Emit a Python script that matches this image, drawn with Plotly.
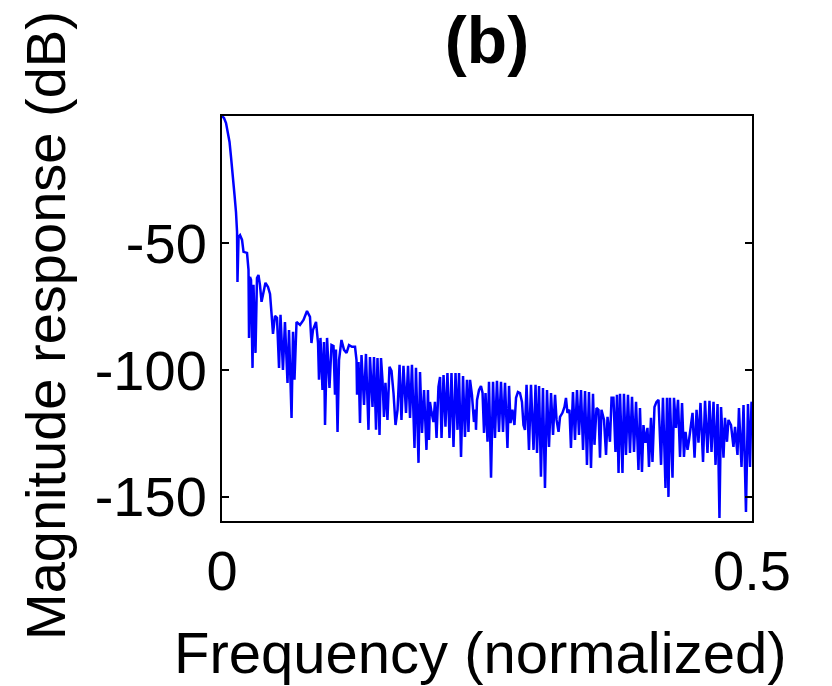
import plotly.graph_objects as go

# (normalized frequency, magnitude dB), segment by segment
main_lobe = [
    (0.0, 0.0), (0.0019, -0.8), (0.0038, -2.8), (0.0057, -6.3), (0.0071, -10.2),
    (0.0085, -16.1), (0.0104, -23.6), (0.0118, -31.1), (0.0132, -37.8), (0.0142, -45.7),
    (0.0146, -65.4), (0.0156, -47.6), (0.0170, -46.9), (0.0189, -48.8), (0.0203, -53.5),
    (0.0236, -53.9), (0.0250, -60.6),
]

near_sidelobes = [
    (0.0255, -87.4), (0.0264, -63.4), (0.0274, -64.6), (0.0288, -99.2), (0.0297, -66.5),
    (0.0316, -93.3), (0.0330, -63.8), (0.0344, -62.6), (0.0358, -66.5), (0.0373, -73.2),
    (0.0387, -69.7), (0.0410, -65.7), (0.0434, -67.3), (0.0453, -70.1), (0.0467, -77.6),
    (0.0481, -85.8), (0.0500, -78.7), (0.0519, -79.5), (0.0538, -99.2), (0.0552, -78.3),
    (0.0575, -100.0), (0.0594, -81.1), (0.0618, -105.1), (0.0632, -84.3), (0.0656, -118.9),
    (0.0670, -85.0), (0.0684, -103.9), (0.0703, -81.1), (0.0736, -82.3), (0.0769, -80.3),
    (0.0802, -76.8), (0.0830, -79.1), (0.0844, -89.4), (0.0858, -84.3), (0.0887, -81.1),
    (0.0906, -89.4), (0.0915, -103.9), (0.0929, -87.4), (0.0948, -107.9), (0.0962, -89.0),
    (0.0972, -121.7), (0.0991, -87.4), (0.1014, -107.1), (0.1033, -90.2), (0.1052, -90.6),
    (0.1066, -109.8), (0.1075, -92.0), (0.1090, -124.4), (0.1104, -96.1), (0.1127, -88.2),
    (0.1151, -92.1), (0.1175, -93.3), (0.1198, -90.2), (0.1226, -90.9), (0.1255, -90.9),
]

mid_band = [
    (0.1269, -96.1), (0.1274, -109.8), (0.1288, -96.9), (0.1302, -120.9), (0.1316, -94.1),
    (0.1340, -113.8), (0.1358, -93.7), (0.1382, -123.6), (0.1396, -94.9), (0.1420, -114.6),
    (0.1434, -94.9), (0.1453, -123.6), (0.1467, -95.3), (0.1486, -125.6), (0.1500, -95.3),
    (0.1514, -103.9), (0.1528, -118.5), (0.1542, -105.1), (0.1561, -119.7), (0.1580, -98.8),
    (0.1599, -100.4), (0.1618, -109.1), (0.1637, -121.7), (0.1656, -115.7), (0.1675, -98.0),
    (0.1693, -119.7), (0.1712, -98.4), (0.1736, -116.9), (0.1755, -98.4), (0.1774, -118.9),
    (0.1792, -98.0), (0.1816, -130.7), (0.1830, -99.2), (0.1854, -136.6), (0.1868, -100.8),
    (0.1887, -124.8), (0.1906, -107.9), (0.1929, -131.5), (0.1943, -107.9), (0.1953, -127.6),
    (0.1962, -112.6), (0.1976, -116.5), (0.1995, -120.5), (0.2009, -112.6), (0.2024, -126.8),
    (0.2042, -106.7), (0.2057, -102.8), (0.2071, -126.8), (0.2090, -102.0), (0.2108, -122.4),
    (0.2127, -101.2), (0.2146, -126.8), (0.2165, -101.2), (0.2184, -130.3), (0.2203, -101.2),
    (0.2222, -123.6), (0.2236, -101.2), (0.2255, -134.3), (0.2274, -102.4), (0.2292, -126.4),
    (0.2311, -103.9), (0.2325, -124.4), (0.2340, -103.9), (0.2358, -109.8), (0.2377, -120.5),
    (0.2392, -115.7), (0.2396, -123.6), (0.2406, -111.8), (0.2425, -107.9), (0.2443, -106.3),
    (0.2458, -109.1), (0.2472, -124.8), (0.2486, -109.1), (0.2505, -128.3), (0.2519, -104.7),
    (0.2538, -142.5), (0.2557, -104.7), (0.2575, -126.8), (0.2594, -104.3), (0.2613, -124.4),
    (0.2632, -104.7), (0.2651, -124.4), (0.2670, -105.1), (0.2693, -130.7), (0.2708, -106.3),
    (0.2722, -120.9), (0.2740, -115.7), (0.2759, -121.7), (0.2774, -111.0), (0.2792, -108.7),
    (0.2811, -109.1), (0.2830, -112.6), (0.2844, -121.7), (0.2858, -123.6),
]

upper_band = [
    (0.2873, -105.9), (0.2896, -131.5), (0.2915, -105.9), (0.2939, -131.5), (0.2958, -105.9),
    (0.2972, -132.7), (0.2991, -106.3), (0.3009, -142.1), (0.3028, -107.1), (0.3047, -146.5),
    (0.3066, -107.9), (0.3085, -130.3), (0.3104, -109.1), (0.3123, -125.6), (0.3142, -109.8),
    (0.3156, -119.7), (0.3175, -124.4), (0.3189, -118.5), (0.3212, -116.9), (0.3231, -114.6),
    (0.3245, -111.0), (0.3259, -116.9), (0.3278, -115.7), (0.3292, -130.7), (0.3311, -108.7),
    (0.3330, -127.6), (0.3349, -107.9), (0.3368, -125.6), (0.3387, -107.9), (0.3406, -131.5),
    (0.3425, -108.3), (0.3443, -137.4), (0.3462, -108.7), (0.3481, -138.6), (0.3500, -109.4),
    (0.3514, -129.5), (0.3533, -115.0), (0.3552, -115.7), (0.3566, -134.6), (0.3580, -115.7),
    (0.3604, -119.7), (0.3623, -133.5), (0.3637, -118.5), (0.3660, -128.3), (0.3675, -111.0),
    (0.3693, -111.0), (0.3712, -132.3), (0.3726, -109.8), (0.3741, -140.6), (0.3755, -109.4),
    (0.3778, -140.6), (0.3792, -109.4), (0.3811, -133.5), (0.3830, -109.8), (0.3849, -132.7),
    (0.3868, -110.6), (0.3887, -132.3), (0.3906, -112.6), (0.3929, -139.4), (0.3943, -115.0),
    (0.3962, -140.2), (0.3976, -121.7), (0.3995, -128.7), (0.4014, -122.8), (0.4028, -138.2),
    (0.4047, -118.9), (0.4061, -136.2), (0.4080, -114.6), (0.4099, -112.6), (0.4118, -111.8),
    (0.4142, -137.4), (0.4160, -111.0), (0.4184, -146.5), (0.4198, -111.0), (0.4212, -150.0),
    (0.4226, -111.0), (0.4250, -142.5), (0.4264, -111.0), (0.4283, -122.8), (0.4302, -111.8),
    (0.4321, -134.3), (0.4340, -113.0), (0.4358, -134.3), (0.4373, -124.4), (0.4392, -131.5),
    (0.4406, -127.6), (0.4420, -122.8), (0.4439, -116.9), (0.4458, -134.6), (0.4477, -115.7),
    (0.4495, -128.7), (0.4514, -113.0), (0.4538, -136.2), (0.4557, -112.2), (0.4580, -132.7),
    (0.4599, -112.2), (0.4618, -132.3), (0.4637, -112.6), (0.4656, -137.4), (0.4675, -113.4),
    (0.4693, -158.3), (0.4708, -114.6), (0.4731, -134.6), (0.4745, -118.9), (0.4764, -128.3),
    (0.4778, -119.7), (0.4802, -121.7), (0.4825, -130.3), (0.4840, -122.4), (0.4863, -133.5),
    (0.4877, -115.0), (0.4901, -138.2), (0.4920, -113.8), (0.4943, -155.9), (0.4962, -113.4),
    (0.4981, -138.2), (0.4995, -113.0), (0.5000, -112.6),
]

y_ticks = [-50, -100, -150]
y_ticklabels = ["-50", "-100", "-150"]
x_ticks = [0, 0.5]
x_ticklabels = ["0", "0.5"]

points = main_lobe + near_sidelobes + mid_band + upper_band
freq = [p[0] for p in points]
mag = [p[1] for p in points]

FONT = "Liberation Sans, Arial, Helvetica, sans-serif"

fig = go.Figure()
fig.add_trace(go.Scatter(x=freq, y=mag, mode="lines",
                         line=dict(color="#0000ff", width=2.5),
                         showlegend=False))

axis_common = dict(showline=True, linecolor="black", linewidth=2, mirror="ticks",
                   ticks="inside", ticklen=7, tickwidth=2, tickcolor="black",
                   showgrid=False, zeroline=False,
                   tickfont=dict(family=FONT, size=56, color="black"))

# page has an 8px body margin, so the figure is 8px smaller than the window
fig.update_layout(
    width=824, height=678,
    margin=dict(l=214, r=80, t=108, b=165),
    paper_bgcolor="white", plot_bgcolor="white",
    title=dict(text="<b>(b)</b>", x=0.5, xref="paper", y=1 - 32 / 678,
               yref="container", xanchor="center", yanchor="middle",
               font=dict(family=FONT, size=66, color="black")),
    xaxis=dict(range=[0, 0.5], tickvals=x_ticks, ticktext=x_ticklabels,
               ticklabelstandoff=0, **axis_common),
    yaxis=dict(range=[-159.5, 0], tickvals=y_ticks, ticktext=y_ticklabels,
               ticklabelstandoff=2, **axis_common),
    annotations=[
        dict(text="Frequency (normalized)", xref="paper", yref="paper",
             x=(480 - 222) / 530, y=(521 - 652) / 405, xanchor="center",
             yanchor="middle", showarrow=False,
             font=dict(family=FONT, size=58, color="black")),
        dict(text="Magnitude response (dB)", xref="paper", yref="paper",
             x=(45 - 222) / 530, y=(521 - 326) / 405, xanchor="center",
             yanchor="middle", textangle=-90, showarrow=False,
             font=dict(family=FONT, size=56, color="black")),
    ],
)

fig.write_html("out.html")
